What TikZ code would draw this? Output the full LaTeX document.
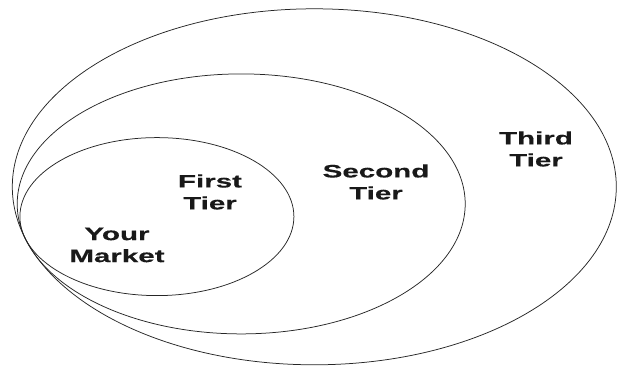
\documentclass[tikz,border=0pt]{standalone}
\usepackage{fontspec}
\setmainfont{Liberation Sans}
\newfontfamily\labelfont[FakeStretch=1.64,FakeBold=0.3]{Liberation Sans Bold}
\begin{document}
\begin{tikzpicture}[x=1pt,y=-1pt,
  ring/.style={draw=black!85,line width=0.75pt},
  tier/.style={font=\labelfont\fontsize{18pt}{22pt}\selectfont,align=center,inner sep=0pt,text=black!90}]
\useasboundingbox (0,0) rectangle (618,365);
\fill[white] (0,0) rectangle (618,365);
% outer (third tier)
\draw[ring] (314.3,186.8) ellipse [x radius=302pt, y radius=178pt];
% middle (second tier)
\draw[ring] (241.2,203.9) ellipse [x radius=224pt, y radius=130pt];
% inner (first tier)
\draw[ring] (156.9,216.6) ellipse [x radius=137pt, y radius=79pt];
\node[tier] (third) at (536,149) {Third\\Tier};
\node[tier] (second) at (376,182) {Second\\Tier};
\node[tier] (first) at (210,192) {First\\Tier};
\node[tier] (market) at (117,245) {Your\\Market};
\end{tikzpicture}
\end{document}
